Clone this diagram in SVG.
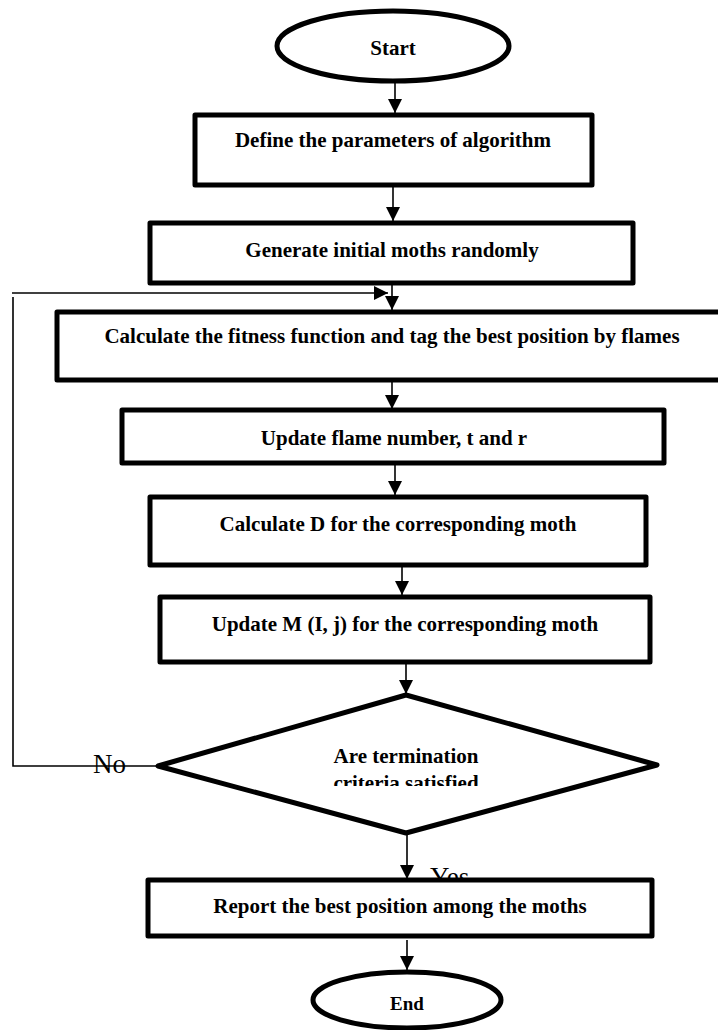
<svg xmlns="http://www.w3.org/2000/svg" width="718" height="1030" viewBox="0 0 718 1030">
  <style>
    .box { fill: #fff; stroke: #000; stroke-width: 5; stroke-linejoin: round; }
    .t { font-family: "Liberation Serif", "Times New Roman", serif; font-weight: bold; font-size: 21px; fill: #000; text-anchor: middle; }
    .lbl { font-family: "Liberation Serif", "Times New Roman", serif; font-size: 27px; fill: #000; }
    .c { fill: none; stroke: #000; stroke-width: 1.6; }
  </style>
  <defs>
    <marker id="ah" viewBox="0 0 10 10" refX="10" refY="5" markerWidth="14" markerHeight="14" markerUnits="userSpaceOnUse" orient="auto">
      <path d="M0,0 L10,5 L0,10 z" fill="#000"/>
    </marker>
    <clipPath id="clipq">
      <rect x="150" y="700" width="500" height="86"/>
    </clipPath>
  </defs>

  <g id="connectors">
    <line class="c" x1="395" y1="82" x2="395" y2="113" marker-end="url(#ah)"/>
    <line class="c" x1="393" y1="185" x2="393" y2="221" marker-end="url(#ah)"/>
    <line class="c" x1="392" y1="283" x2="392" y2="310" marker-end="url(#ah)"/>
    <line class="c" x1="392" y1="380" x2="392" y2="409" marker-end="url(#ah)"/>
    <line class="c" x1="395" y1="463" x2="395" y2="495" marker-end="url(#ah)"/>
    <line class="c" x1="402" y1="565" x2="402" y2="595" marker-end="url(#ah)"/>
    <line class="c" x1="406" y1="662" x2="406" y2="694" marker-end="url(#ah)"/>
    <line class="c" x1="407" y1="833" x2="407" y2="879" marker-end="url(#ah)"/>
    <line class="c" x1="407" y1="940" x2="407" y2="970" marker-end="url(#ah)"/>
    <path class="c" d="M158,766 H13 V297"/>
    <line class="c" x1="12" y1="293" x2="388" y2="293" marker-end="url(#ah)"/>
    <text class="lbl" x="93" y="773">No</text>
    <text class="lbl" x="430" y="886">Yes</text>
  </g>

  <g id="start">
    <ellipse class="box" cx="393" cy="46" rx="116" ry="35"/>
    <text class="t" x="393" y="55">Start</text>
  </g>

  <g id="define">
    <rect class="box" x="195" y="115" width="397" height="70"/>
    <text class="t" x="393" y="147">Define the parameters of algorithm</text>
  </g>

  <g id="generate">
    <rect class="box" x="150" y="223" width="483" height="60"/>
    <text class="t" x="392" y="257">Generate initial moths randomly</text>
  </g>

  <g id="fitness">
    <rect class="box" x="57" y="312" width="700" height="68"/>
    <text class="t" x="392" y="343">Calculate the fitness function and tag the best position by flames</text>
  </g>

  <g id="update-flame">
    <rect class="box" x="122" y="410" width="542" height="53"/>
    <text class="t" x="394" y="445">Update flame number, t and r</text>
  </g>

  <g id="calc-d">
    <rect class="box" x="150" y="497" width="496" height="68"/>
    <text class="t" x="398" y="531">Calculate D for the corresponding moth</text>
  </g>

  <g id="update-m">
    <rect class="box" x="160" y="597" width="490" height="65"/>
    <text class="t" x="405" y="631">Update M (I, j) for the corresponding moth</text>
  </g>

  <g id="decision">
    <polygon class="box" points="406,695 657,765 406,833 158,766"/>
    <text class="t" x="406" y="763">Are termination</text>
    <text class="t" x="406" y="790" clip-path="url(#clipq)">criteria satisfied</text>
  </g>

  <g id="report">
    <rect class="box" x="148" y="880" width="504" height="56"/>
    <text class="t" x="400" y="913">Report the best position among the moths</text>
  </g>

  <g id="end">
    <ellipse class="box" cx="407" cy="1000" rx="94" ry="28"/>
    <text class="t" x="407" y="1010" style="font-size:19px">End</text>
  </g>
</svg>
